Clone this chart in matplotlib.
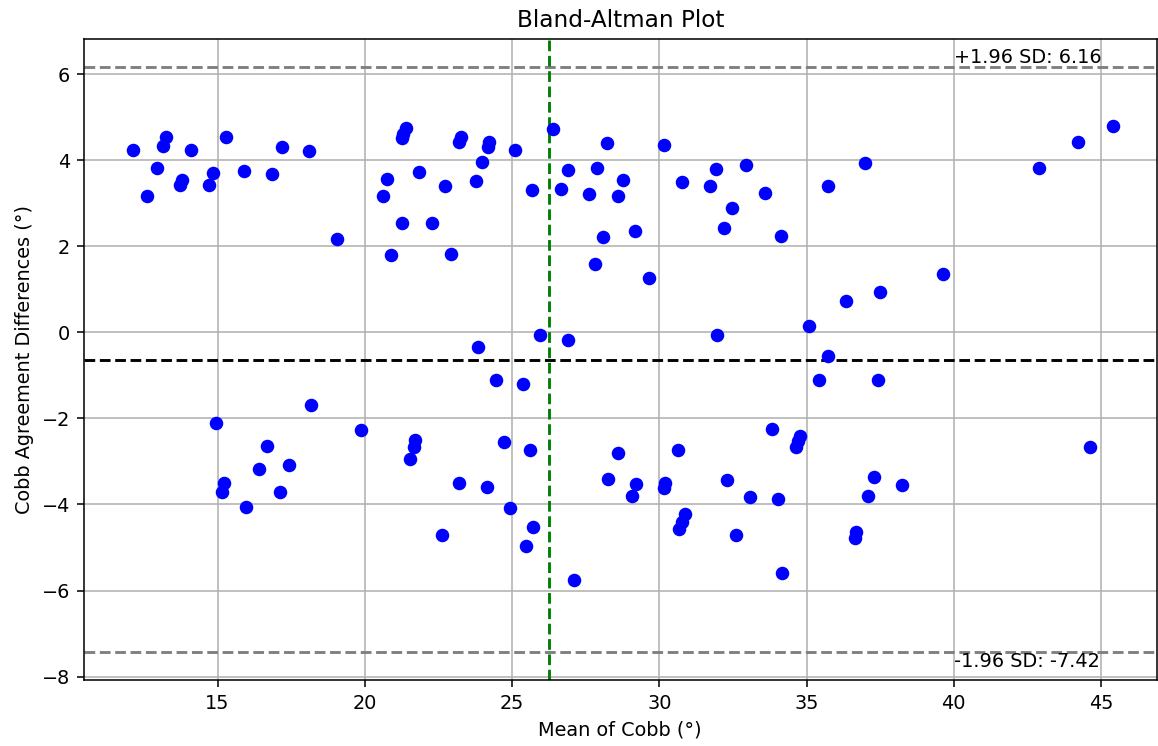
import matplotlib
matplotlib.use("Agg")
import matplotlib.pyplot as plt
import numpy as np

# mean of the two Cobb measurements (deg)
mean_cobb = [
    12.12, 12.60, 12.94, 13.15, 13.25, 13.73, 13.79, 14.10, 14.71, 14.85,
    15.28, 15.90, 16.85, 17.18, 18.10, 19.07, 20.61, 20.76, 20.90, 21.39,
    21.31, 21.25, 21.28, 21.85, 22.28, 22.71, 22.93, 23.26, 23.21, 23.77,
    23.98, 24.22, 24.18, 25.11, 25.67, 26.38, 26.66, 26.89, 27.61, 27.81,
    27.89, 28.09, 28.22, 28.60, 28.78, 29.16, 29.64, 30.15, 30.76, 31.71,
    31.92, 32.19, 32.46, 32.93, 33.58, 34.12, 35.72, 36.97, 36.35, 37.48,
    39.65, 42.91, 44.23, 45.42,
    31.95, 35.08, 35.74, 35.44, 37.44, 23.83, 25.95, 26.90, 24.45, 25.38,
    18.17, 14.95, 19.87, 16.67, 16.42, 17.44, 15.23, 15.14, 17.12, 15.96,
    21.71, 21.67, 21.52, 24.72, 25.61, 28.61, 23.21, 24.16, 28.27, 29.21,
    29.08, 24.93, 25.72, 22.61, 25.49, 27.10, 33.84, 34.78, 34.70, 34.63,
    30.64, 30.18, 30.15, 32.29, 33.09, 34.03, 37.30, 38.24, 37.10, 30.89,
    30.77, 30.67, 32.62, 36.69, 36.63, 34.18, 44.64,
]

# difference between the two measurements (deg)
diff_cobb = [
    4.24, 3.18, 3.81, 4.33, 4.55, 3.43, 3.55, 4.24, 3.43, 3.71,
    4.54, 3.76, 3.69, 4.32, 4.22, 2.16, 3.18, 3.57, 1.81, 4.74,
    4.62, 4.51, 2.54, 3.73, 2.54, 3.41, 1.83, 4.54, 4.43, 3.53,
    3.95, 4.43, 4.31, 4.24, 3.32, 4.72, 3.34, 3.78, 3.22, 1.60,
    3.82, 2.22, 4.40, 3.18, 3.54, 2.35, 1.26, 4.35, 3.50, 3.41,
    3.80, 2.42, 2.90, 3.89, 3.25, 2.25, 3.41, 3.94, 0.74, 0.93,
    1.35, 3.82, 4.42, 4.79,
    -0.07, 0.15, -0.54, -1.10, -1.10, -0.35, -0.06, -0.17, -1.10, -1.19,
    -1.68, -2.10, -2.28, -2.63, -3.18, -3.08, -3.49, -3.70, -3.72, -4.05,
    -2.49, -2.66, -2.95, -2.54, -2.74, -2.80, -3.51, -3.60, -3.41, -3.53,
    -3.80, -4.08, -4.53, -4.70, -4.96, -5.75, -2.25, -2.40, -2.52, -2.67,
    -2.74, -3.51, -3.61, -3.44, -3.83, -3.88, -3.35, -3.54, -3.80, -4.21,
    -4.41, -4.57, -4.72, -4.65, -4.77, -5.60, -2.67,
]

mean_diff = -0.63
upper_loa = 6.16
lower_loa = -7.42
mean_x = 26.25

DPI = 139
fig = plt.figure(figsize=(1158 / DPI, 746 / DPI), dpi=DPI)
ax = fig.add_axes([83.5 / 1158, 1 - 680 / 746, (1157 - 83.5) / 1158, (680 - 39) / 746])

ax.scatter(mean_cobb, diff_cobb, color="blue", zorder=3)
ax.axhline(mean_diff, color="black", linestyle="--")
ax.axhline(upper_loa, color="gray", linestyle="--")
ax.axhline(lower_loa, color="gray", linestyle="--")
ax.axvline(mean_x, color="green", linestyle="--")

ax.text(40, upper_loa, f"+1.96 SD: {upper_loa:.2f}", va="bottom")
ax.text(40, lower_loa, f"-1.96 SD: {lower_loa:.2f}", va="top")

ax.set_xlim(10.45, 46.9)
ax.set_ylim(-8.08, 6.82)
ax.set_xlabel("Mean of Cobb (°)")
ax.set_ylabel("Cobb Agreement Differences (°)")
ax.set_title("Bland-Altman Plot")
ax.grid(True)

fig.savefig("out.png", dpi=DPI)
